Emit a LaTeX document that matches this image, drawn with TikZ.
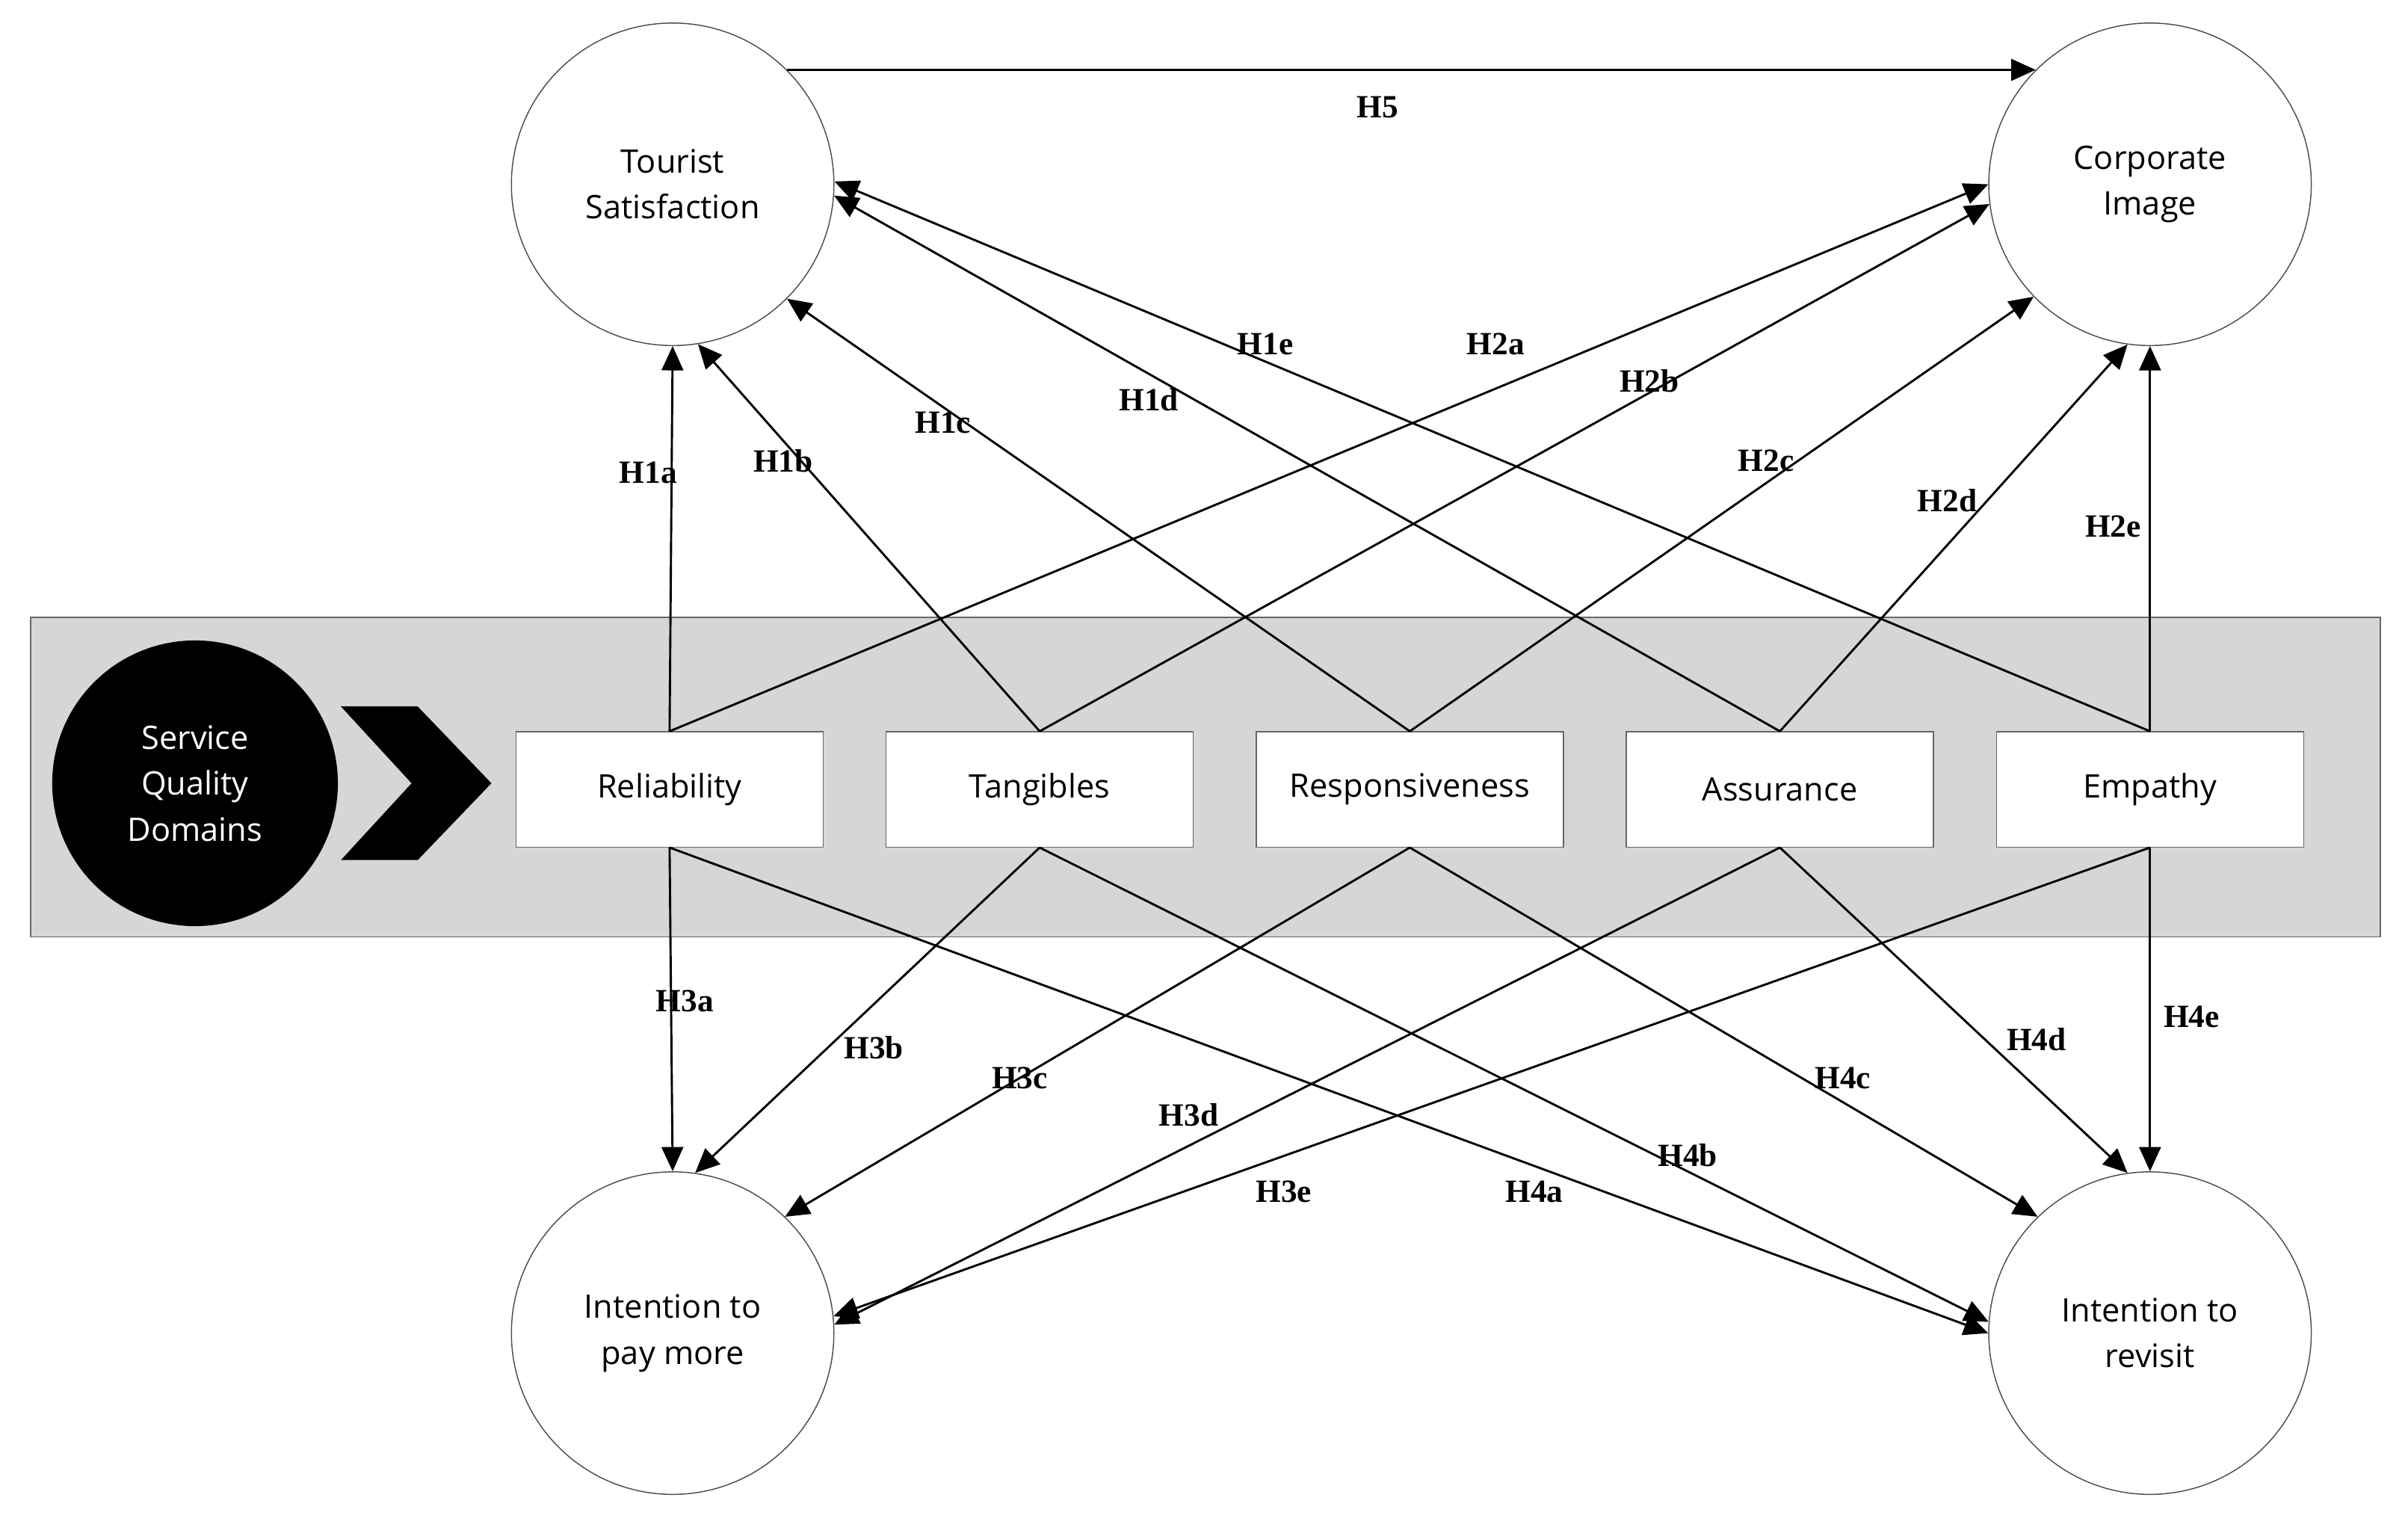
\documentclass[tikz,border=0pt]{standalone}
\usepackage{fontspec}
\setmainfont{Liberation Serif}
\newfontfamily\boxfont{Open Sans}
\usetikzlibrary{arrows.meta,positioning}

\tikzset{
  construct/.style={draw=black!70,circle,minimum size=42mm,inner sep=0pt,align=center,font=\boxfont\fontsize{12}{17}\selectfont},
  sqbox/.style={draw=black!60,fill=white,minimum width=40mm,minimum height=15mm,inner sep=0pt,font=\boxfont\fontsize{12}{14}\selectfont},
  hyp/.style={black,line width=0.8pt,-{Triangle[length=9pt,width=8pt]}},
  lbl/.style={font=\bfseries\fontsize{12}{14}\selectfont,inner sep=1pt}
}

\begin{document}
\begin{tikzpicture}[x=0.2mm,y=-0.2mm]
\useasboundingbox (0,0) rectangle (1568,992);
% band of service quality domains
\fill[black!16,draw=black!60] (20,402) rectangle (1550,610);
\node[circle,fill=black,minimum size=37.2mm,inner sep=0pt,align=center,text=white,
      font=\boxfont\fontsize{12}{17}\selectfont] (sq) at (127,510) {Service\\Quality\\Domains};
\fill[black] (222,460) -- (272,460) -- (320,510) -- (272,560) -- (222,560) -- (268,510) -- cycle;

\node[sqbox] (rel) at (436,514) {Reliability};
\node[sqbox] (tan) at (677,514) {Tangibles};
\node[sqbox] (res) at (918,514) {Responsiveness};
\node[sqbox] (ass) at (1159,514) {Assurance};
\node[sqbox] (emp) at (1400,514) {Empathy};

% outcome constructs
\node[construct] (ts) at (438,120) {Tourist\\Satisfaction};
\node[construct] (ci) at (1400,120) {Corporate\\Image};
\node[construct] (ip) at (438,868) {Intention to\\pay more};
\node[construct] (ir) at (1400,868) {Intention to\\revisit};

% H1 and H2
\draw[hyp] (rel.north) -- (ts.-90);
\draw[hyp] (tan.north) -- (ts.-81);
\draw[hyp] (res.north) -- (ts.-45);
\draw[hyp] (ass.north) -- (ts.-4);
\draw[hyp] (emp.north) -- (ts.1);
\draw[hyp] (rel.north) -- (ci.180);
\draw[hyp] (tan.north) -- (ci.-173);
\draw[hyp] (res.north) -- (ci.-136);
\draw[hyp] (ass.north) -- (ci.-98);
\draw[hyp] (emp.north) -- (ci.-90);
% H3 and H4
\draw[hyp] (rel.south) -- (ip.90);
\draw[hyp] (tan.south) -- (ip.82);
\draw[hyp] (res.south) -- (ip.46);
\draw[hyp] (ass.south) -- (ip.3);
\draw[hyp] (emp.south) -- (ip.6);
\draw[hyp] (rel.south) -- (ir.180);
\draw[hyp] (tan.south) -- (ir.176);
\draw[hyp] (res.south) -- (ir.134);
\draw[hyp] (ass.south) -- (ir.98);
\draw[hyp] (emp.south) -- (ir.90);
% H5
\draw[hyp] (ts.45) -- (ci.135);

\node[lbl] at (897,70) {H5};
\node[lbl] at (422,308) {H1a};
\node[lbl] at (510,300) {H1b};
\node[lbl] at (614,275) {H1c};
\node[lbl] at (748,260) {H1d};
\node[lbl] at (824,224) {H1e};
\node[lbl] at (974,224) {H2a};
\node[lbl] at (1074,248) {H2b};
\node[lbl] at (1150,300) {H2c};
\node[lbl] at (1268,326) {H2d};
\node[lbl] at (1376,343) {H2e};
\node[lbl] at (446,652) {H3a};
\node[lbl] at (569,682) {H3b};
\node[lbl] at (664,702) {H3c};
\node[lbl] at (774,726) {H3d};
\node[lbl] at (836,776) {H3e};
\node[lbl] at (999,776) {H4a};
\node[lbl] at (1099,752) {H4b};
\node[lbl] at (1200,702) {H4c};
\node[lbl] at (1326,677) {H4d};
\node[lbl] at (1427,662) {H4e};
\end{tikzpicture}
\end{document}
